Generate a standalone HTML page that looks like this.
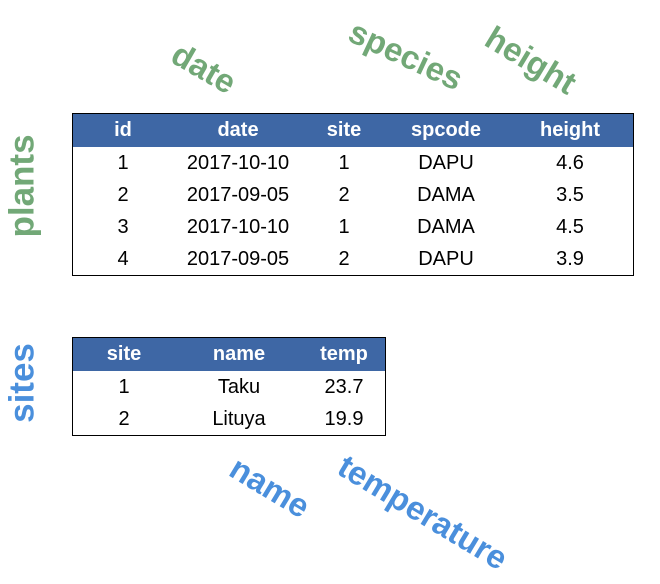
<!DOCTYPE html>
<html><head><meta charset="utf-8"><style>
body{margin:0;width:660px;height:584px;background:#fff;position:relative;overflow:hidden;font-family:"Liberation Sans",sans-serif}
table{position:absolute;border-collapse:collapse;border:1.5px solid #000;font-size:20px;table-layout:fixed}
th{background:#3e67a5;color:#fff;font-weight:bold;height:33px;padding:0;text-align:center}
td{height:32px;padding:0;text-align:center;color:#000}
.l{position:absolute;font-weight:bold;white-space:nowrap;transform-origin:center;line-height:1}
.g{color:#72a877}.b{color:#4a8fdc}
</style></head><body>
<table style="left:72px;top:113px;width:562px">
<tr><th style="width:100px">id</th><th style="width:130px">date</th><th style="width:82px">site</th><th style="width:122px">spcode</th><th>height</th></tr>
<tr><td>1</td><td>2017-10-10</td><td>1</td><td>DAPU</td><td>4.6</td></tr>
<tr><td>2</td><td>2017-09-05</td><td>2</td><td>DAMA</td><td>3.5</td></tr>
<tr><td>3</td><td>2017-10-10</td><td>1</td><td>DAMA</td><td>4.5</td></tr>
<tr><td>4</td><td>2017-09-05</td><td>2</td><td>DAPU</td><td>3.9</td></tr>
</table>
<table style="left:72px;top:337px;width:314px">
<tr><th style="width:102px">site</th><th style="width:128px">name</th><th>temp</th></tr>
<tr><td>1</td><td>Taku</td><td>23.7</td></tr>
<tr><td>2</td><td>Lituya</td><td>19.9</td></tr>
</table>
<div class="l g" style="font-size:35px;left:22px;top:186px;transform:translate(-50%,-50%) rotate(-90deg)">plants</div>
<div class="l b" style="font-size:35px;left:22px;top:383px;transform:translate(-50%,-50%) rotate(-90deg)">sites</div>
<div class="l g" style="font-size:33px;left:204px;top:68px;transform:translate(-50%,-50%) rotate(30deg)">date</div>
<div class="l g" style="font-size:33px;left:406px;top:55px;transform:translate(-50%,-50%) rotate(25deg)">species</div>
<div class="l g" style="font-size:33px;left:531px;top:60px;transform:translate(-50%,-50%) rotate(31deg)">height</div>
<div class="l b" style="font-size:33px;left:270px;top:487px;transform:translate(-50%,-50%) rotate(31deg)">name</div>
<div class="l b" style="font-size:33px;left:423px;top:512px;transform:translate(-50%,-50%) rotate(31deg)">temperature</div>
</body></html>
